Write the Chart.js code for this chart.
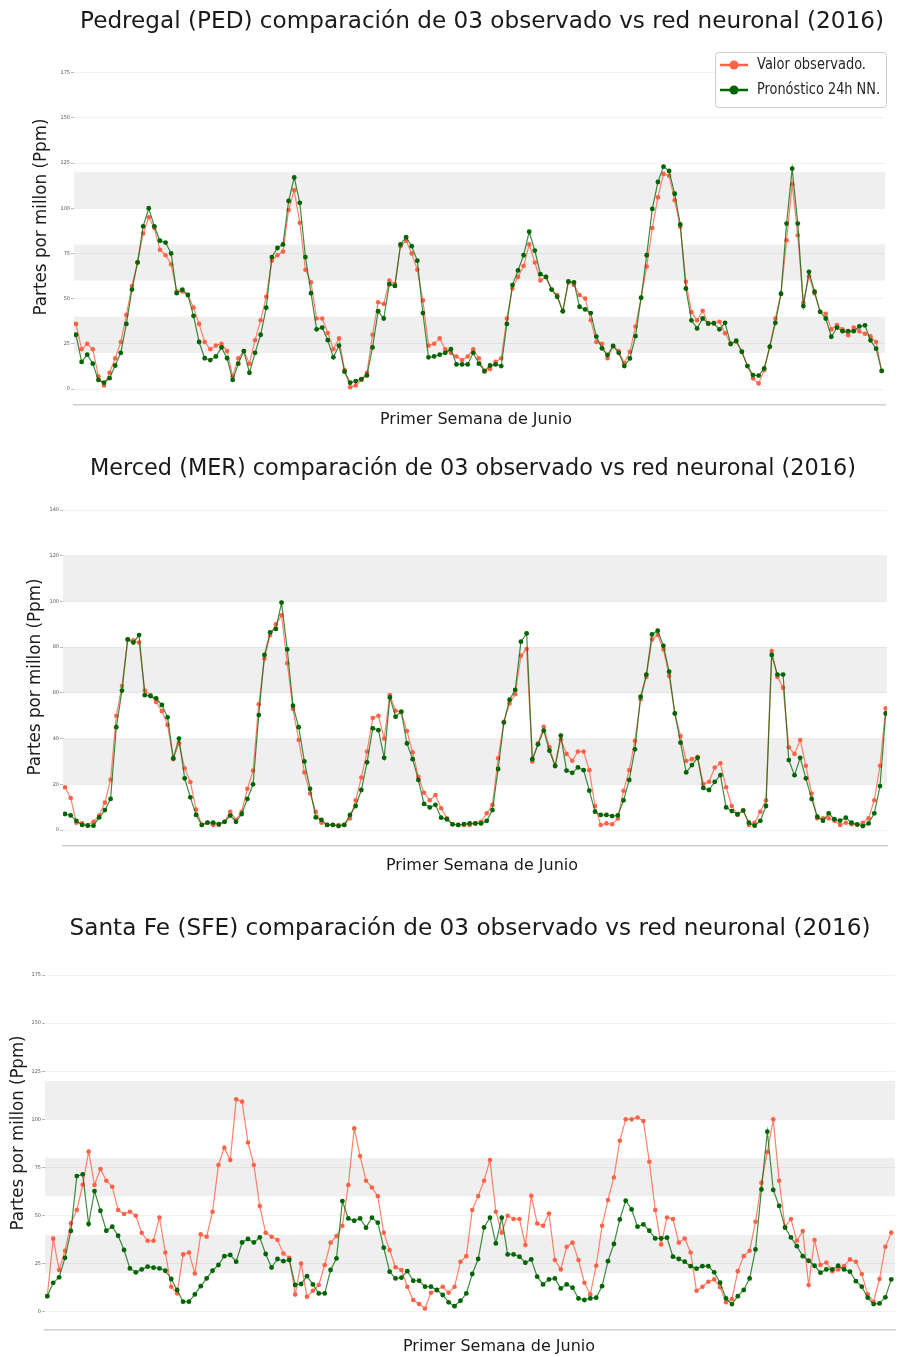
<!DOCTYPE html>
<html>
<head>
<meta charset="utf-8">
<script src="https://cdn.jsdelivr.net/npm/chart.js@4.4.1/dist/chart.umd.min.js"></script>
<style>
  body { margin: 0; background: #fff; width: 899px; height: 1357px; overflow: hidden; position: relative; }
  canvas { position: absolute; left: 0; }
</style>
</head>
<body>
<canvas id="ped" width="899" height="445" style="top:0px"></canvas>
<canvas id="mer" width="899" height="445" style="top:445px"></canvas>
<canvas id="sfe" width="899" height="467" style="top:890px"></canvas>
<script>
// hourly values, first week of June 2016
var pedObs = [
  36, 22, 25, 22, 7, 2, 9, 17, 26, 41,
  57, 70, 86, 95, 89, 77, 74, 69, 54, 54,
  52, 45, 36, 26, 22, 24, 25, 21, 7, 17,
  21, 14, 27, 38, 51, 71, 74, 76, 99, 110,
  92, 66, 59, 39, 39, 31, 22, 28, 10.5, 1,
  2, 5, 9, 30, 48, 47, 60, 58, 79, 82,
  75, 66, 49, 24, 25, 28, 22, 20, 18, 16,
  18, 22, 17, 9.6, 11, 15, 17, 39, 55.6, 62,
  68, 80, 70, 60, 62, 55, 52, 43, 59, 57.5,
  52, 50, 38, 26, 25, 17, 23.8, 21, 14.4, 20.6,
  34.6, 50.5, 67.7, 89, 106, 119, 118, 104.4, 89.7, 59.3,
  42.5, 38, 43.3, 36, 36.6, 37.2, 30.8, 25.2, 26.1, 20.6,
  12.7, 5.9, 3.1, 10.5, 23.4, 39, 52.7, 82.3, 113.3, 85,
  47.7, 62.4, 52.9, 42.7, 41.6, 33, 35.4, 33, 29.8, 34,
  31.9, 30.6, 29.1, 26, 10
];
var pedNN = [
  30, 15, 19, 14, 5, 3.5, 6, 13, 20, 36,
  55, 70, 90, 100, 90, 82, 81, 75, 53, 55,
  52, 40.5, 26, 17, 16, 18, 23, 17, 5, 14,
  21, 9, 20, 30, 45, 73, 78, 80, 104, 117,
  103, 73, 53, 33, 34, 27, 17.5, 24, 9.6, 3.5,
  4.4, 5.5, 7.5, 23, 43, 39, 58, 57, 80, 84,
  79, 71, 42, 17.5, 18, 19, 20, 22, 13.6, 13.6,
  13.6, 20, 14, 10, 13, 13.6, 12.7, 36, 57.5, 65.6,
  74, 87, 76.6, 63.5, 62, 55, 51, 43, 59.5, 59,
  45.5, 44, 42, 29, 22.5, 18.8, 23.8, 20, 12.7, 16.9,
  29.3, 50.5, 74, 99.6, 114.5, 123, 120.6, 108, 91, 55.6,
  38, 33.5, 39, 36.3, 36.3, 33, 36.6, 24.9, 26.7, 20.6,
  12.7, 7.7, 7.4, 11.4, 23.4, 36.6, 52.7, 91.5, 121.9, 91.5,
  45.9, 64.8, 53.8, 42.7, 39, 28.9, 34, 32, 32, 32,
  34.6, 35.2, 26.9, 22.3, 10
];
var merObs = [
  18.7, 14, 3.2, 2.9, 2.2, 3.6, 6.3, 12, 22, 50,
  63, 83.4, 83, 82, 61, 59, 56, 52, 46, 31,
  38, 27, 21, 9, 2.2, 3.2, 2.2, 2.2, 3.6, 8,
  4.4, 8, 18, 26, 55, 75, 85.3, 90, 94, 73,
  53, 39.4, 25.2, 16, 8, 3.2, 2.2, 2.2, 2.2, 2.2,
  5.1, 13, 23, 34.3, 49, 50, 40, 59, 52.2, 51.5,
  43.3, 34, 23.3, 16.3, 13, 15.3, 9.5, 5.1, 2.5, 2.2,
  2.2, 2.2, 2.9, 3.6, 7.3, 11, 31.4, 47.4, 55.4, 59.4,
  76.3, 79.2, 30, 37.9, 45.2, 36.2, 28, 39.7, 33.3, 30.3,
  34.3, 34.3, 26.2, 10.5, 2.2, 2.9, 2.5, 5, 17.2, 26.2,
  39, 57.2, 67, 83.4, 85.3, 79, 67.4, 51, 41.1, 30.2,
  31, 32, 20.1, 21.1, 27.3, 29.2, 18.7, 10.5, 6.6, 8.7,
  2.2, 3.2, 8, 13, 78.3, 67, 62.3, 36.2, 33.3, 39.4,
  28.1, 16, 5.1, 5.1, 5.1, 4.1, 2.2, 3.2, 2.5, 2.2,
  3.2, 5.1, 13, 28.1, 53.2
];
var merNN = [
  7, 6.4, 4, 2.2, 1.9, 1.9, 5.5, 8.7, 13.6, 45,
  61, 83.4, 82, 85.3, 59, 58.6, 57.6, 54.7, 49.3, 31.4,
  40, 22.6, 14.3, 6.6, 2.2, 3.2, 3.2, 2.6, 3.6, 6.3,
  3.6, 7, 13.6, 20, 50.3, 76.6, 86.5, 88, 99.5, 79,
  54.4, 45, 30, 18, 5.5, 4.4, 2.2, 2.2, 1.7, 2.2,
  6.6, 10.5, 17.5, 29.6, 44.5, 43.7, 31.6, 58, 49.6, 51.8,
  37.9, 31, 21.9, 11.4, 9.9, 11, 5.4, 4.7, 2.5, 2.2,
  2.6, 2.9, 2.9, 2.9, 4, 8.7, 26.7, 47, 57, 61.3,
  82.4, 86, 31, 37.5, 43.5, 34.7, 28, 41.3, 26, 25,
  27.4, 26.2, 17.2, 8, 6.6, 6.6, 6.1, 6.4, 13, 21.9,
  35.3, 58.3, 68, 85.6, 87.2, 80.6, 69.3, 51, 38.2, 25.2,
  28.4, 31.6, 18.4, 17.5, 21.1, 24, 9.9, 8.3, 6.9, 8.5,
  3.2, 1.9, 4, 10.5, 76.6, 68, 68, 30.6, 24, 31.6,
  22.6, 13.6, 5.8, 4.1, 7.3, 4.7, 4.1, 5.4, 3.2, 2.5,
  1.7, 2.9, 7.3, 19.2, 51
];
var sfeObs = [
  8.1, 38, 21.7, 31.7, 46, 52.9, 66, 83.2, 65.9, 74.2,
  68.1, 65, 52.9, 50.8, 52, 49.9, 41, 36.9, 36.9, 49,
  30.8, 13, 9.5, 29.8, 30.8, 19.9, 40.2, 39, 52, 76.3,
  85.3, 78.9, 110.4, 109.2, 88, 76.3, 54.9, 41, 39, 37.3,
  30.3, 28, 9, 25.1, 7.8, 10.9, 13.9, 24.3, 35.9, 39.3,
  44.7, 65.9, 95.3, 80.9, 68.1, 64.6, 60.1, 41.1, 32.1, 23.1,
  21.7, 13, 6.1, 4, 1.7, 9.9, 11.3, 13, 9.9, 13,
  26, 28.9, 52.9, 60.1, 68.1, 78.9, 52, 41.1, 49.9, 48.2,
  48.2, 34.7, 60.3, 45.9, 44.7, 51.1, 26.9, 22, 33.8, 35.9,
  26.9, 15.1, 9, 23.9, 44.7, 58.1, 69.8, 88.9, 100, 100,
  101, 99.1, 78, 52.9, 35, 49, 48.2, 35.9, 38.1, 30.8,
  10.9, 13, 15.6, 16.8, 12.7, 4.9, 6.6, 21.1, 28.9, 31.7,
  46.8, 67.1, 83, 100, 68.1, 44.2, 48.2, 36.9, 41.9, 13.9,
  37.3, 24.3, 25.6, 21.1, 22, 23.7, 27.2, 26, 19.6, 9,
  5.2, 17, 33.8, 41.1
];
var sfeNN = [
  8.1, 15, 17.9, 28, 42, 70.5, 71.4, 45.6, 62.7, 52.5,
  42.1, 44.2, 39.5, 32.1, 22.5, 20.5, 22, 23.4, 22.9, 22.5,
  21.3, 17, 11.3, 5.2, 5.2, 9, 13.3, 17.3, 21.3, 24.3,
  28.9, 29.5, 26, 36, 37.8, 36, 38.6, 30, 23, 27.4,
  26.3, 26.9, 13.9, 14.4, 18.5, 14.2, 9.5, 9.5, 21.7, 27.7,
  57.5, 48.5, 47.3, 48.5, 43.7, 48.9, 46.3, 33.3, 20.8, 17.3,
  17.7, 21.1, 16.1, 16.1, 13, 13, 11.3, 8.7, 4.9, 2.9,
  5.7, 9.5, 19.6, 27.4, 43.8, 48.9, 35.5, 48.9, 29.8, 29.8,
  28.6, 25.5, 27.2, 18.2, 14.2, 16.8, 17.3, 12.1, 14.2, 12.5,
  6.9, 6.1, 6.9, 7.3, 13.3, 26.3, 35.2, 48, 57.7, 53.2,
  44.2, 45.4, 42.1, 38.1, 38.1, 38.5, 28.6, 27.4, 26, 23.7,
  22.4, 23.7, 23.7, 20.5, 15.1, 6.9, 4, 8.1, 11.3, 17.3,
  32.4, 63.6, 93.6, 63.3, 55, 43.7, 38.6, 34.1, 28.9, 26.5,
  23.9, 20.3, 22, 22, 23.9, 22, 20.8, 15.9, 13, 7.3,
  4, 4.3, 7.5, 16.8
];
var hours = pedObs.map(function (v, i) { return i; });
var ticks175 = [0, 25, 50, 75, 100, 125, 150, 175];
var ticks140 = [0, 20, 40, 60, 80, 100, 120, 140];
var bands = [[20, 40], [60, 80], [100, 120]];
var seriesNames = ["Valor observado.", "Pronóstico 24h NN."];
var obsColor = "#ff6347";
var nnColor = "#006400";

Chart.defaults.font.family = "'DejaVu Sans', sans-serif";

///Gray bands behind the lines
var bandPlugin = {
  id: "bands",
  beforeDraw: function (chart) {
    var ctx = chart.ctx, a = chart.chartArea, y = chart.scales.y;
    ctx.save();
    ctx.fillStyle = "#efefef";
    bands.forEach(function (b) {
      var top = y.getPixelForValue(b[1]);
      var bot = y.getPixelForValue(b[0]);
      ctx.fillRect(a.left, top, a.right - a.left, bot - top);
    });
    ctx.restore();
  }
};

///Titles and axis labels
var textPlugin = {
  id: "panelText",
  afterDraw: function (chart, args, opts) {
    var ctx = chart.ctx;
    (opts.items || []).forEach(function (t) {
      ctx.save();
      ctx.translate(t.x, t.y);
      if (t.rotate) ctx.rotate(t.rotate);
      ctx.font = t.size + "px 'DejaVu Sans'";
      ctx.fillStyle = "#1a1a1a";
      ctx.textAlign = "center";
      ctx.textBaseline = "middle";
      if (t.maxWidth) ctx.fillText(t.text, 0, 0, t.maxWidth);
      else ctx.fillText(t.text, 0, 0);
      ctx.restore();
    });
  }
};

///Legend box top right
var legendPlugin = {
  id: "boxLegend",
  afterDraw: function (chart, args, opts) {
    if (!opts.show) return;
    var ctx = chart.ctx;
    var x = opts.x, y = opts.y, w = opts.w, h = opts.h;
    ctx.save();
    ctx.fillStyle = "rgba(255,255,255,0.9)";
    ctx.strokeStyle = "#cccccc";
    ctx.lineWidth = 1;
    ctx.beginPath();
    ctx.roundRect(x + 0.5, y + 0.5, w, h, 3);
    ctx.fill();
    ctx.stroke();
    chart.data.datasets.forEach(function (ds, i) {
      var ly = y + 13 + i * 25;
      ctx.strokeStyle = ds.pointBackgroundColor;
      ctx.lineWidth = 2.5;
      ctx.beginPath();
      ctx.moveTo(x + 5, ly);
      ctx.lineTo(x + 33, ly);
      ctx.stroke();
      ctx.fillStyle = ds.pointBackgroundColor;
      ctx.beginPath();
      ctx.arc(x + 19, ly, 4.5, 0, Math.PI * 2);
      ctx.fill();
      ctx.fillStyle = "#262626";
      ctx.font = "16px 'DejaVu Sans'";
      ctx.textAlign = "left";
      ctx.textBaseline = "middle";
      ctx.fillText(ds.label, x + 42, ly, i == 0 ? 109 : 123);
    });
    ctx.restore();
  }
};

function makePanel(id, obs, nn, cfg) {
  var ctx = document.getElementById(id);
  return new Chart(ctx, {
    type: "line",
    data: {
      datasets: [
        {
          label: seriesNames[0],
          data: obs.map(function (v, i) { return { x: hours[i], y: v }; }),
          borderColor: "rgba(255, 99, 71, 0.8)",
          backgroundColor: obsColor,
          pointBackgroundColor: obsColor,
          pointBorderWidth: 0,
          pointRadius: 2.3,
          borderWidth: 1.2,
          order: 1,
        },
        {
          label: seriesNames[1],
          data: nn.map(function (v, i) { return { x: hours[i], y: v }; }),
          borderColor: "rgba(0, 100, 0, 0.75)",
          backgroundColor: nnColor,
          pointBackgroundColor: nnColor,
          pointBorderWidth: 0,
          pointRadius: 2.4,
          borderWidth: 1.2,
          order: 0,
        },
      ],
    },
    options: {
      responsive: false,
      animation: false,
      layout: { padding: cfg.pad },
      plugins: {
        legend: { display: false },
        tooltip: { enabled: false },
        panelText: { items: cfg.texts },
        boxLegend: cfg.legend || { show: false },
      },
      scales: {
        x: {
          type: "linear",
          min: cfg.xMin,
          max: cfg.xMax,
          ticks: { display: false },
          grid: { display: false, drawTicks: false },
          border: { display: true, color: "#d0d0d0", width: 1.5 },
          afterFit: function (s) { s.height = 2; },
        },
        y: {
          min: cfg.yMin,
          max: cfg.yMax,
          afterBuildTicks: function (s) {
            s.ticks = cfg.ticks.map(function (v) { return { value: v }; });
          },
          afterFit: function (s) { s.width = 30; },
          ticks: { font: { size: 5 }, color: "#555", padding: 1 },
          grid: {
            color: "rgba(0,0,0,0.05)",
            drawTicks: true,
            tickLength: 3,
            tickColor: "#999",
            tickWidth: 0.7,
          },
          border: { display: false },
        },
      },
    },
    plugins: [bandPlugin, textPlugin, legendPlugin],
  });
}

makePanel("ped", pedObs, pedNN, {
  pad: { left: 44, right: 14, top: 58, bottom: 38 },
  xMin: -0.36, xMax: 144.59, yMin: -8.85, yMax: 183.1,
  ticks: ticks175,
  texts: [
    { text: "Pedregal (PED) comparación de 03 observado vs red neuronal (2016)", x: 482, y: 22, size: 23.3, maxWidth: 804 },
    { text: "Partes por millon (Ppm)", x: 42, y: 217, size: 17, rotate: -Math.PI / 2, maxWidth: 197 },
    { text: "Primer Semana de Junio", x: 476, y: 420, size: 16, maxWidth: 192 },
  ],
  legend: { show: true, x: 715, y: 52, w: 171, h: 55 },
});

makePanel("mer", merObs, merNN, {
  pad: { left: 33, right: 12, top: 55, bottom: 42 },
  xMin: -0.35, xMax: 144.23, yMin: -7, yMax: 144.4,
  ticks: ticks140,
  texts: [
    { text: "Merced (MER) comparación de 03 observado vs red neuronal (2016)", x: 473, y: 24, size: 23.3, maxWidth: 766 },
    { text: "Partes por millon (Ppm)", x: 36, y: 232, size: 17, rotate: -Math.PI / 2, maxWidth: 197 },
    { text: "Primer Semana de Junio", x: 482, y: 421, size: 16, maxWidth: 192 },
  ],
});

makePanel("sfe", sfeObs, sfeNN, {
  pad: { left: 15, right: 0, top: 72, bottom: 25 },
  xMin: -0.39, xMax: 143.63, yMin: -9.5, yMax: 181.8,
  ticks: ticks175,
  texts: [
    { text: "Santa Fe (SFE) comparación de 03 observado vs red neuronal (2016)", x: 470, y: 39, size: 23.3, maxWidth: 801 },
    { text: "Partes por millon (Ppm)", x: 19, y: 243, size: 17, rotate: -Math.PI / 2, maxWidth: 195 },
    { text: "Primer Semana de Junio", x: 499, y: 457, size: 16, maxWidth: 192 },
  ],
});
</script>
</body>
</html>
